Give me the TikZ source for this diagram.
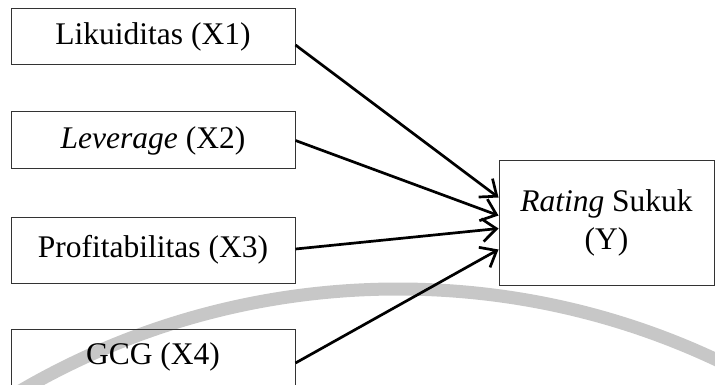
\documentclass[tikz,border=0pt]{standalone}
\usepackage{fontspec}
\setmainfont{Liberation Serif}
\usetikzlibrary{arrows.meta,calc}
\begin{document}
\begin{tikzpicture}[x=1pt,y=-1pt,
  box/.style={draw=black!80, line width=1pt, minimum width=284pt, inner sep=0pt,
    font=\fontsize{31.5}{38}\selectfont, align=center},
  arr/.style={line width=2.7pt, -{Straight Barb[length=14pt,width=23pt,line width=2.7pt]}},
  watermark/.style={line width=13pt, color=black!22}]
\useasboundingbox (0,0) rectangle (715,385);
\clip (0,0) rectangle (715,385);
\draw[watermark] (398,1039) circle[radius=750pt];
\node[box, minimum height=56pt] (x1) at (153,37) {Likuiditas (X1)};
\node[box, minimum height=57pt] (x2) at (153,140.5) {\textit{Leverage} (X2)};
\node[box, minimum height=66pt] (x3) at (153,250) {Profitabilitas (X3)};
\node[box, minimum height=56pt] (x4) at (153,357) {GCG (X4)};
\node[box, minimum width=215pt, minimum height=124pt] (y) at (606.5,223) {\textit{Rating} Sukuk\\(Y)};
\draw[arr] ([yshift=-8pt]x1.east) -- ([yshift=-37pt]y.north west);
\draw[arr] (x2.east) -- ([yshift=-55pt]y.north west);
\draw[arr] ([yshift=1pt]x3.east) -- ([yshift=-68pt]y.north west);
\draw[arr] ([yshift=-6pt]x4.east) -- ([yshift=-89pt]y.north west);
\end{tikzpicture}
\end{document}
